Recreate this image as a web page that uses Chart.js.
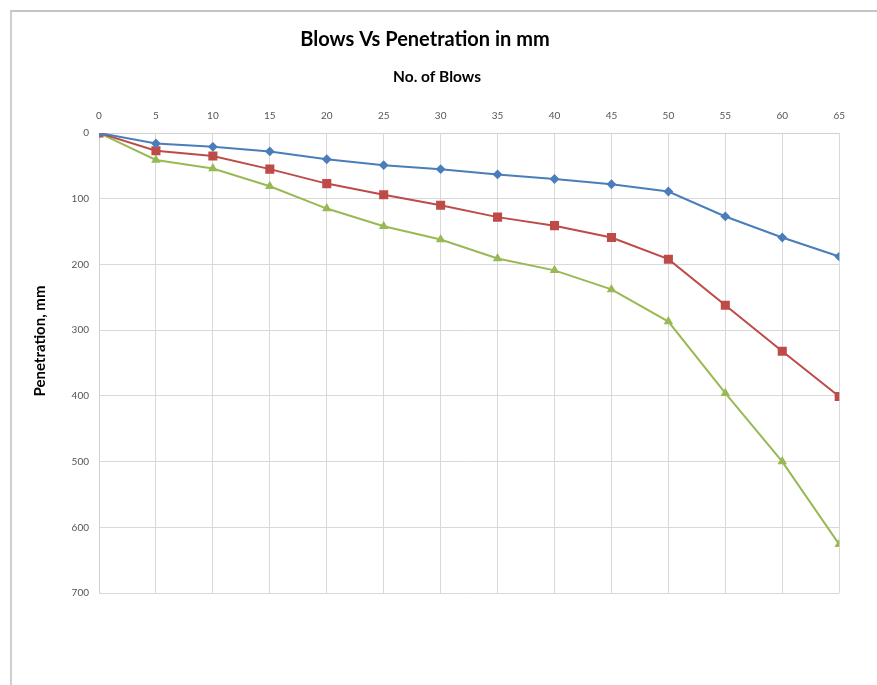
<!DOCTYPE html>
<html>
<head>
<meta charset="utf-8">
<script src="https://cdn.jsdelivr.net/npm/chart.js@4/dist/chart.umd.min.js"></script>
<style>
  html, body { margin: 0; padding: 0; background: #ffffff; }
  body { width: 877px; height: 685px; position: relative; overflow: hidden; }
  #frame {
    position: absolute; left: 10px; top: 10px; width: 880px; height: 690px;
    border-left: 2px solid #cfcfcf; border-top: 2px solid #c4c4c4;
    box-sizing: border-box;
  }
  #wrap { position: absolute; left: 0; top: 0; width: 856px; height: 685px; }
</style>
</head>
<body>
<div id="frame"></div>
<div id="wrap"><canvas id="chart"></canvas></div>
<script>
// Number of blows at each reading
const blows = [0, 5, 10, 15, 20, 25, 30, 35, 40, 45, 50, 55, 60, 65];
// Cumulative penetration (mm) for the three test points
const seriesA = [0, 16, 21, 28, 40, 49, 55, 63, 70, 78, 89, 127, 159, 188];
const seriesB = [0, 27, 35, 55, 77, 94, 110, 128, 141, 159, 192, 262, 332, 401];
const seriesC = [0, 41, 54, 81, 115, 142, 162, 191, 209, 238, 287, 396, 500, 626];

const chartTitle = 'Blows Vs Penetration in mm';
const xTitle = 'No. of Blows';
const yTitle = 'Penetration, mm';

const FONT = 'Lato, "Liberation Sans", sans-serif';

function pts(vals) {
  return blows.map((b, i) => ({ x: b, y: vals[i] }));
}

// Axis captions: x caption above the top axis, rotated y caption on the left
const axisCaptions = {
  id: 'axisCaptions',
  afterDraw(chart) {
    const ctx = chart.ctx;
    ctx.save();
    ctx.fillStyle = '#000';
    ctx.textAlign = 'center';
    ctx.textBaseline = 'middle';
    ctx.font = 'bold 15.5px ' + FONT;
    ctx.fillText(xTitle, 437, 77);
    ctx.translate(40, 341);
    ctx.rotate(-Math.PI / 2);
    ctx.font = 'bold 15px ' + FONT;
    ctx.fillText(yTitle, 0, 0);
    ctx.restore();
  }
};

new Chart(document.getElementById('chart'), {
  type: 'line',
  data: {
    datasets: [
      {
        label: 'A', data: pts(seriesA),
        borderColor: '#4a7ebb', backgroundColor: '#4a7ebb',
        borderWidth: 2, pointStyle: 'rectRot', pointRadius: 3.5, pointHoverRadius: 3.5
      },
      {
        label: 'B', data: pts(seriesB),
        borderColor: '#be4b48', backgroundColor: '#be4b48',
        borderWidth: 2, pointStyle: 'rect', pointRadius: 5, pointHoverRadius: 5
      },
      {
        label: 'C', data: pts(seriesC),
        borderColor: '#98b954', backgroundColor: '#98b954',
        borderWidth: 2, pointStyle: 'triangle', pointRadius: 3.5, pointHoverRadius: 3.5
      }
    ]
  },
  options: {
    responsive: true,
    maintainAspectRatio: false,
    animation: false,
    layout: { padding: { top: 28, left: 1, right: 7, bottom: 92 } },
    plugins: {
      legend: { display: false },
      tooltip: { enabled: false },
      title: {
        display: true, text: chartTitle, color: '#000',
        font: { family: FONT, size: 20, weight: 'bold' },
        padding: { top: 0, bottom: 47 }
      }
    },
    scales: {
      x: {
        type: 'linear', position: 'top', min: 0, max: 65,
        ticks: { stepSize: 5, color: '#555', font: { family: FONT, size: 10 }, padding: 11 },
        grid: { color: '#d9d9d9', drawTicks: false },
        border: { color: '#d0d0d0' }
      },
      y: {
        reverse: true, min: 0, max: 700,
        ticks: { stepSize: 100, color: '#555', font: { family: FONT, size: 10 }, padding: 10 },
        grid: { color: '#d9d9d9', drawTicks: false },
        border: { color: '#d0d0d0' },
        afterFit(scale) { scale.width = 98; }
      }
    }
  },
  plugins: [axisCaptions]
});
</script>
</body>
</html>
